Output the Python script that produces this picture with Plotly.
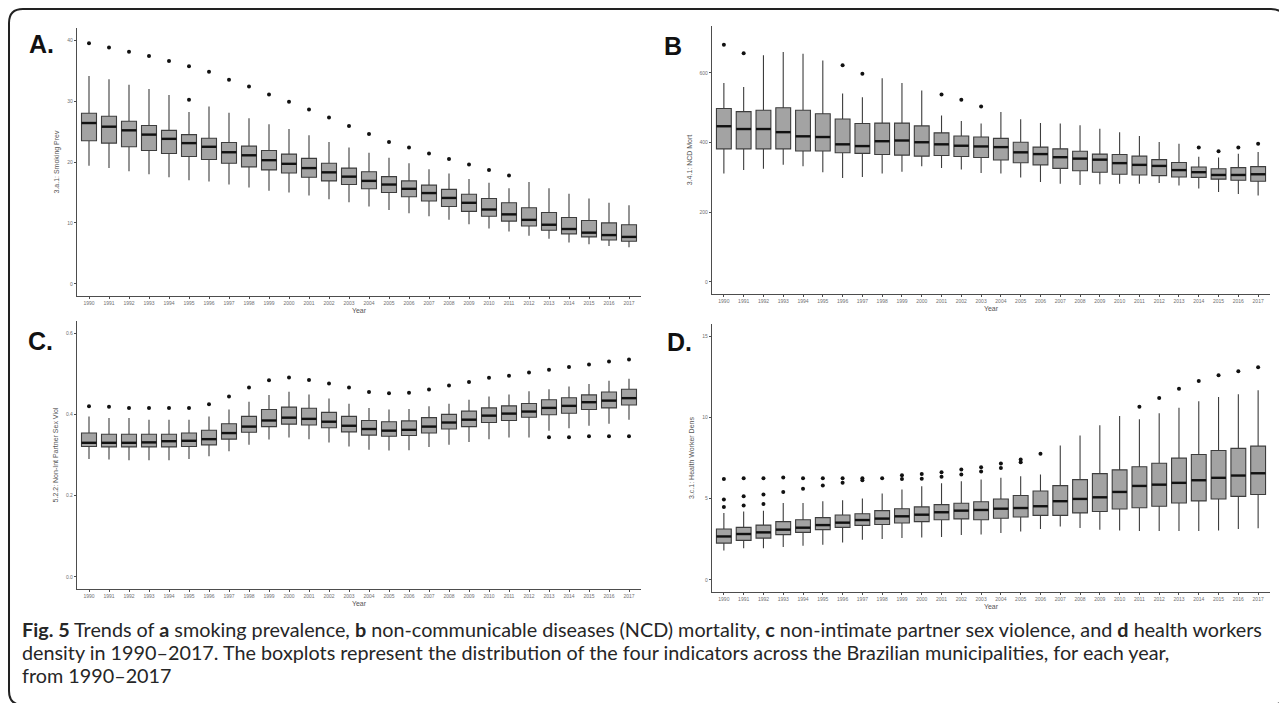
import plotly.graph_objects as go

# The page body adds an 8 px margin, so the figure is drawn 8 px smaller on each side
OFF = 8
W, H = 1287 - 2 * OFF, 711 - 2 * OFF

years = list(range(1990, 2018))
year_labels = [str(y) for y in years]

# Panel A: 3.a.1 Smoking Prev
a_low = [19.4, 19.0, 18.5, 18.0, 17.5, 17.0, 16.8, 16.3, 15.8, 15.3, 15.0, 14.5, 13.9, 13.4, 12.7, 12.1, 11.6, 11.1, 10.5, 9.8, 9.1, 8.6, 7.9, 7.4, 6.8, 6.5, 6.2, 6.0]
a_q1 = [23.5, 23.1, 22.5, 21.9, 21.4, 20.9, 20.4, 19.8, 19.2, 18.7, 18.2, 17.5, 16.9, 16.3, 15.6, 15.0, 14.3, 13.6, 12.7, 11.9, 11.1, 10.3, 9.5, 8.8, 8.2, 7.7, 7.2, 7.0]
a_med = [26.4, 25.8, 25.2, 24.5, 23.8, 23.1, 22.5, 21.6, 21.1, 20.3, 19.7, 19.0, 18.3, 17.6, 16.9, 16.3, 15.6, 14.9, 14.1, 13.3, 12.2, 11.4, 10.5, 9.7, 9.0, 8.4, 8.0, 7.7]
a_q3 = [28.0, 27.5, 26.7, 26.0, 25.2, 24.5, 23.9, 23.2, 22.6, 21.9, 21.3, 20.6, 19.8, 19.0, 18.4, 17.6, 16.9, 16.2, 15.5, 14.7, 14.0, 13.3, 12.5, 11.7, 10.9, 10.4, 10.0, 9.7]
a_high = [34.1, 33.6, 32.7, 32.0, 31.0, 28.2, 29.1, 28.1, 27.2, 26.2, 25.4, 24.4, 23.3, 22.4, 21.5, 20.7, 19.8, 18.8, 18.1, 17.2, 16.6, 15.7, 16.7, 15.7, 14.8, 14.0, 13.3, 12.9]
a_out = [[39.5], [38.8], [38.1], [37.4], [36.6], [35.7, 30.2], [34.8], [33.5], [32.4], [31.1], [29.9], [28.6], [27.3], [25.9], [24.6], [23.3], [22.4], [21.4], [20.5], [19.6], [18.7], [17.8], [], [], [], [], [], []]

# Panel B: 3.4.1 NCD Mort
b_low = [311, 321, 325, 336, 332, 315, 298, 301, 311, 316, 332, 327, 323, 313, 311, 300, 287, 282, 278, 280, 282, 282, 284, 277, 268, 258, 252, 248]
b_q1 = [382, 382, 382, 382, 376, 376, 371, 369, 366, 364, 361, 363, 360, 357, 350, 342, 336, 326, 319, 315, 309, 307, 305, 301, 300, 295, 292, 289]
b_med = [447, 439, 439, 430, 418, 416, 395, 390, 404, 406, 401, 395, 391, 389, 387, 372, 367, 358, 354, 351, 341, 336, 333, 321, 315, 307, 307, 309]
b_q3 = [498, 489, 493, 500, 493, 483, 468, 455, 456, 456, 448, 428, 419, 416, 412, 401, 387, 382, 375, 367, 366, 361, 351, 343, 330, 325, 328, 331]
b_high = [571, 560, 651, 660, 655, 636, 541, 530, 585, 571, 550, 478, 462, 455, 488, 467, 456, 455, 450, 440, 430, 419, 402, 397, 359, 357, 368, 373]
b_out = [[681], [657], [], [], [], [], [622], [598], [], [], [], [538], [523], [504], [], [], [], [], [], [], [], [], [], [], [386], [375], [386], [397]]

# Panel C: 5.2.2 Non-Int Partner Sex Viol
c_low = [0.290, 0.289, 0.287, 0.287, 0.287, 0.290, 0.297, 0.309, 0.325, 0.338, 0.343, 0.339, 0.331, 0.321, 0.313, 0.311, 0.312, 0.320, 0.325, 0.332, 0.339, 0.343, 0.343, 0.360, 0.366, 0.372, 0.377, 0.387]
c_q1 = [0.321, 0.320, 0.320, 0.320, 0.320, 0.321, 0.325, 0.339, 0.356, 0.370, 0.376, 0.374, 0.367, 0.357, 0.349, 0.346, 0.348, 0.354, 0.364, 0.370, 0.380, 0.385, 0.393, 0.399, 0.403, 0.412, 0.416, 0.423]
c_med = [0.330, 0.330, 0.330, 0.331, 0.334, 0.335, 0.339, 0.354, 0.370, 0.385, 0.392, 0.389, 0.382, 0.372, 0.364, 0.360, 0.362, 0.370, 0.380, 0.387, 0.397, 0.402, 0.407, 0.416, 0.421, 0.430, 0.434, 0.440]
c_q3 = [0.354, 0.351, 0.351, 0.351, 0.351, 0.354, 0.361, 0.377, 0.395, 0.412, 0.418, 0.415, 0.405, 0.395, 0.385, 0.382, 0.384, 0.392, 0.400, 0.408, 0.416, 0.421, 0.427, 0.436, 0.441, 0.448, 0.455, 0.462]
c_high = [0.395, 0.391, 0.391, 0.387, 0.387, 0.387, 0.395, 0.412, 0.431, 0.448, 0.456, 0.449, 0.439, 0.426, 0.416, 0.412, 0.413, 0.420, 0.426, 0.436, 0.444, 0.449, 0.457, 0.462, 0.469, 0.475, 0.483, 0.488]
c_out = [[0.420], [0.419], [0.416], [0.416], [0.416], [0.416], [0.425], [0.444], [0.466], [0.484], [0.491], [0.485], [0.476], [0.466], [0.455], [0.452], [0.453], [0.461], [0.471], [0.480], [0.490], [0.495], [0.503], [0.510, 0.344], [0.517, 0.344], [0.523, 0.346], [0.530, 0.346], [0.535, 0.346]]

# Panel D: 3.c.1 Health Worker Dens
d_low = [1.81, 1.95, 1.95, 2.02, 2.10, 2.16, 2.30, 2.47, 2.51, 2.57, 2.61, 2.63, 2.76, 2.79, 2.88, 2.98, 3.13, 3.29, 3.19, 3.09, 3.04, 3.00, 3.00, 3.00, 3.00, 3.04, 3.13, 3.17]
d_q1 = [2.26, 2.43, 2.57, 2.78, 2.92, 3.09, 3.23, 3.35, 3.41, 3.50, 3.58, 3.70, 3.75, 3.70, 3.79, 3.87, 3.97, 3.97, 4.12, 4.21, 4.36, 4.44, 4.53, 4.73, 4.86, 4.98, 5.14, 5.25]
d_med = [2.67, 2.82, 2.92, 3.09, 3.21, 3.37, 3.52, 3.68, 3.77, 3.91, 4.01, 4.16, 4.26, 4.30, 4.38, 4.42, 4.53, 4.84, 4.98, 5.08, 5.41, 5.78, 5.86, 5.97, 6.13, 6.28, 6.42, 6.56]
d_q3 = [3.13, 3.23, 3.37, 3.58, 3.70, 3.83, 3.99, 4.07, 4.26, 4.38, 4.49, 4.63, 4.71, 4.81, 4.98, 5.19, 5.47, 5.80, 6.17, 6.54, 6.77, 6.96, 7.18, 7.49, 7.72, 7.96, 8.09, 8.23]
d_high = [4.12, 4.21, 4.26, 4.73, 4.73, 4.84, 4.90, 5.00, 5.31, 5.56, 5.76, 5.95, 6.07, 6.17, 6.29, 6.38, 6.48, 8.27, 8.89, 9.51, 10.08, 9.88, 10.25, 10.60, 10.99, 11.25, 11.42, 11.67]
d_out = [[6.21, 4.94, 4.49], [6.25, 5.14, 4.57], [6.25, 5.25, 4.67], [6.30, 5.41], [6.25, 5.60], [6.25, 5.80], [6.25, 5.97], [6.25, 6.13], [6.25], [6.44, 6.21], [6.52, 6.23], [6.62, 6.34], [6.79, 6.48], [6.93, 6.67], [7.16, 6.89], [7.41, 7.24], [7.76], [], [], [], [], [10.66], [11.19], [11.77], [12.24], [12.59], [12.84], [13.09]]

panel_titles = ["3.a.1: Smoking Prev", "3.4.1: NCD Mort", "5.2.2: Non-Int Partner Sex Viol", "3.c.1: Health Worker Dens"]
panel_letters = ["A.", "B", "C.", "D."]
caption_lines = [
    "<b>Fig. 5</b> Trends of <b>a</b> smoking prevalence, <b>b</b> non-communicable diseases (NCD) mortality, <b>c</b> non-intimate partner sex violence, and <b>d</b> health workers",
    "density in 1990–2017. The boxplots represent the distribution of the four indicators across the Brazilian municipalities, for each year,",
    "from 1990–2017",
]

# ---- layout geometry (page pixels) ----
panels = [
    dict(low=a_low, q1=a_q1, med=a_med, q3=a_q3, high=a_high, out=a_out,
         px=(77, 641), py=(28, 296), yr=[-2, 42], tv=[0, 10, 20, 30, 40], fmt="d"),
    dict(low=b_low, q1=b_q1, med=b_med, q3=b_q3, high=b_high, out=b_out,
         px=(712, 1270), py=(26, 294), yr=[-35, 735], tv=[0, 200, 400, 600], fmt="d"),
    dict(low=c_low, q1=c_q1, med=c_med, q3=c_q3, high=c_high, out=c_out,
         px=(77, 641), py=(321, 589), yr=[-0.03, 0.63], tv=[0.0, 0.2, 0.4, 0.6], fmt=".1f"),
    dict(low=d_low, q1=d_q1, med=d_med, q3=d_q3, high=d_high, out=d_out,
         px=(712, 1270), py=(324, 592), yr=[-0.75, 15.75], tv=[0, 5, 10, 15], fmt="d"),
]
letter_pos = [(41, 44), (673, 46), (40, 341), (679, 342)]


def fx(px):
    return (px - OFF) / W


def fy(py):
    return 1 - (py - OFF) / H


BOXW = 0.75
fig = go.Figure()
FONT = "Liberation Sans, Arial, sans-serif"

for i, p in enumerate(panels):
    n = i + 1
    xa = "x" if n == 1 else f"x{n}"
    ya = "y" if n == 1 else f"y{n}"
    fig.add_trace(go.Box(
        x=years, q1=p["q1"], median=p["med"], q3=p["q3"],
        lowerfence=p["low"], upperfence=p["high"],
        width=BOXW, whiskerwidth=0, boxpoints=False,
        fillcolor="#a3a3a3", line=dict(color="#3d3d3d", width=1.1),
        xaxis=xa, yaxis=ya, showlegend=False, hoverinfo="skip"))
    mx, my = [], []
    for yv, m in zip(years, p["med"]):
        mx += [yv - BOXW / 2, yv + BOXW / 2, None]
        my += [m, m, None]
    fig.add_trace(go.Scatter(x=mx, y=my, mode="lines", line=dict(color="#111111", width=2.4),
                             xaxis=xa, yaxis=ya, showlegend=False, hoverinfo="skip"))
    ox, oy = [], []
    for yv, outs in zip(years, p["out"]):
        for o in outs:
            ox.append(yv)
            oy.append(o)
    fig.add_trace(go.Scatter(x=ox, y=oy, mode="markers", marker=dict(color="#111111", size=4),
                             xaxis=xa, yaxis=ya, showlegend=False, hoverinfo="skip"))

    xk = "xaxis" if n == 1 else f"xaxis{n}"
    yk = "yaxis" if n == 1 else f"yaxis{n}"
    fig.layout[xk] = dict(
        domain=[fx(p["px"][0]), fx(p["px"][1])], anchor=ya,
        range=[1989.4, 2017.6], tickvals=years, ticktext=year_labels,
        showline=True, linecolor="#4d4d4d", linewidth=1.3, ticks="outside", ticklen=2,
        tickcolor="#4d4d4d", tickfont=dict(size=5, color="#707070", family=FONT),
        showgrid=False, zeroline=False, fixedrange=True,
        title=dict(text="Year", font=dict(size=7, color="#555555", family=FONT), standoff=2))
    fig.layout[yk] = dict(
        domain=[fy(p["py"][1]), fy(p["py"][0])], anchor=xa,
        range=p["yr"], tickvals=p["tv"], tickformat=p["fmt"],
        showline=True, linecolor="#4d4d4d", linewidth=1.3, ticks="outside", ticklen=2,
        tickcolor="#4d4d4d", tickfont=dict(size=5, color="#707070", family=FONT),
        showgrid=False, zeroline=False, fixedrange=True,
        title=dict(text=panel_titles[i], font=dict(size=7, color="#555555", family=FONT), standoff=6))

annotations = []
for (lx, ly), t in zip(letter_pos, panel_letters):
    annotations.append(dict(x=fx(lx), y=fy(ly), xref="paper", yref="paper", text=f"<b>{t}</b>",
                            showarrow=False, xanchor="center", yanchor="middle",
                            font=dict(size=25, color="#111111", family=FONT)))
cap_y = [629, 652, 675]
for cy, line in zip(cap_y, caption_lines):
    annotations.append(dict(x=fx(20), y=fy(cy), xref="paper", yref="paper", text=line,
                            showarrow=False, xanchor="left", yanchor="middle",
                            font=dict(size=19.8, color="#262626", family="Lato, Open Sans, sans-serif")))


def rr_path(x0, y0, x1, y1, r):
    def P(x, y):
        return f"{fx(x):.5f},{fy(y):.5f}"
    return (f"M {P(x0 + r, y0)} L {P(x1 - r, y0)} Q {P(x1, y0)} {P(x1, y0 + r)} "
            f"L {P(x1, y1 - r)} Q {P(x1, y1)} {P(x1 - r, y1)} L {P(x0 + r, y1)} "
            f"Q {P(x0, y1)} {P(x0, y1 - r)} L {P(x0, y0 + r)} Q {P(x0, y0)} {P(x0 + r, y0)} Z")


fig.update_layout(
    width=W, height=H, margin=dict(l=0, r=0, t=0, b=0),
    paper_bgcolor="white", plot_bgcolor="white",
    annotations=annotations,
    shapes=[dict(type="path", xref="paper", yref="paper", path=rr_path(9, 9, 1285, 705, 14),
                 line=dict(color="#222222", width=2), fillcolor="rgba(0,0,0,0)", layer="below")],
    font=dict(family=FONT),
)

fig.write_html("out.html")
